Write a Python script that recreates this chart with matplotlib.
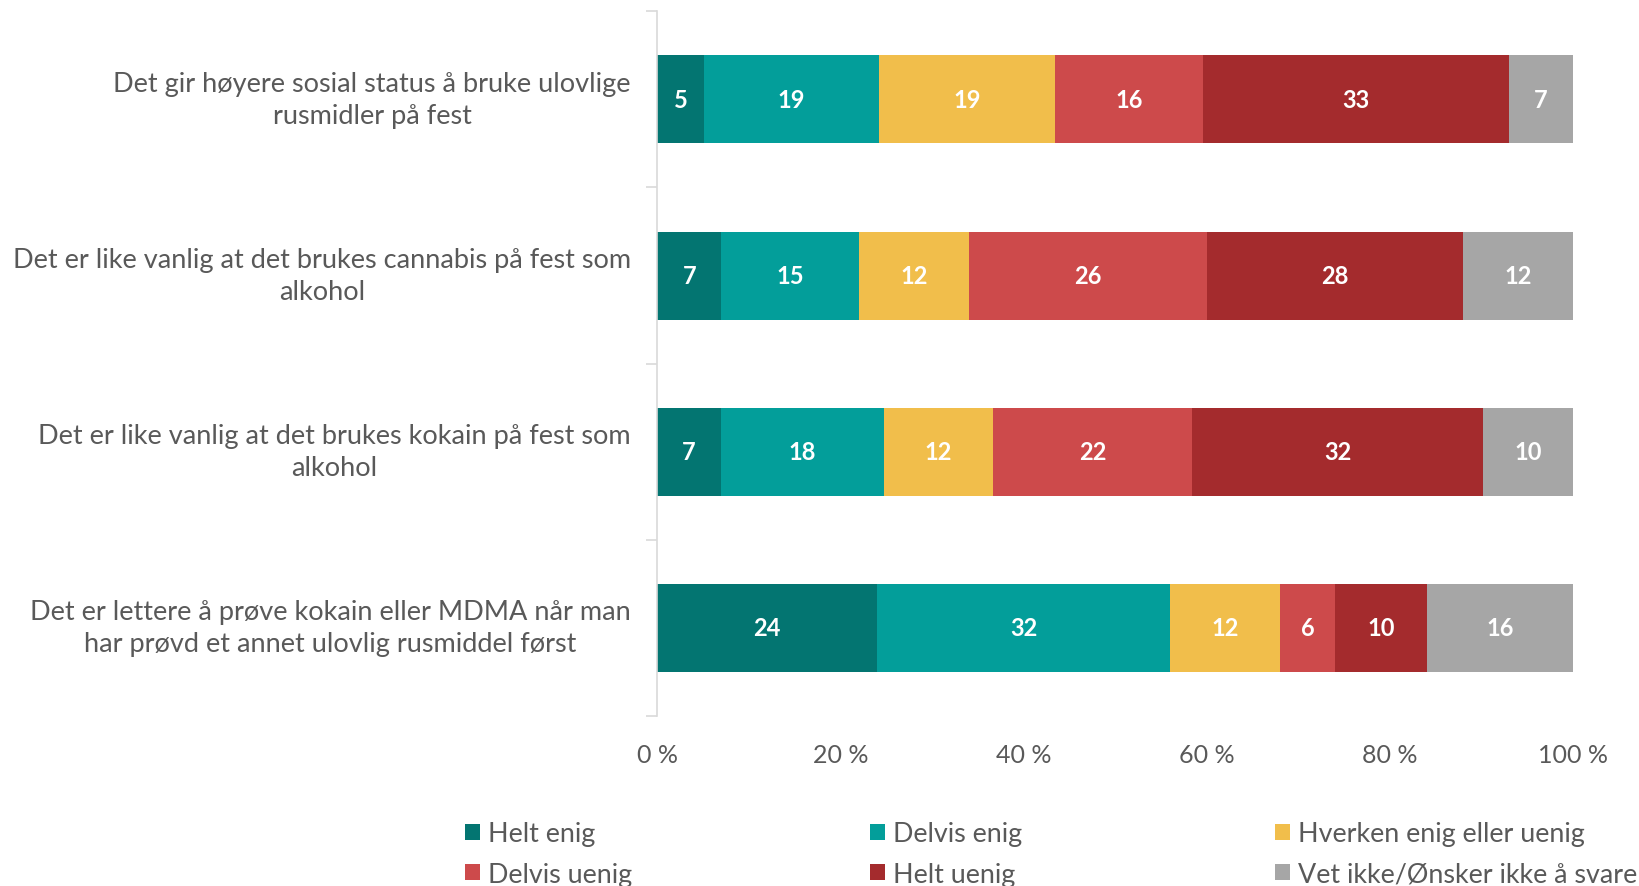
import numpy as np
import matplotlib
matplotlib.use('Agg')
import matplotlib.pyplot as plt
import matplotlib.transforms as mtransforms

plt.rcParams['font.family'] = ['Lato', 'DejaVu Sans']

categories = [
    'Det gir høyere sosial status å bruke ulovlige\nrusmidler på fest',
    'Det er like vanlig at det brukes cannabis på fest som\nalkohol',
    'Det er like vanlig at det brukes kokain på fest som\nalkohol',
    'Det er lettere å prøve kokain eller MDMA når man\nhar prøvd et annet ulovlig rusmiddel først',
]
series_names = ['Helt enig', 'Delvis enig', 'Hverken enig eller uenig',
                'Delvis uenig', 'Helt uenig', 'Vet ikke/Ønsker ikke å svare']
helt_enig = [5, 7, 7, 24]
delvis_enig = [19, 15, 18, 32]
hverken = [19, 12, 12, 12]
delvis_uenig = [16, 26, 22, 6]
helt_uenig = [33, 28, 32, 10]
vet_ikke = [7, 12, 10, 16]
colors = ['#037571', '#039E9A', '#F1BE4B', '#CD4A4B', '#A42B2D', '#A6A6A6']

data = np.array([helt_enig, delvis_enig, hverken, delvis_uenig, helt_uenig, vet_ikke], dtype=float)
shares = data / data.sum(axis=0) * 100

fig = plt.figure(figsize=(16.39, 8.87), dpi=100)
ax = fig.add_axes([0.401, 0.192, 0.559, 0.794])

y = np.arange(len(categories))
left = np.zeros(len(categories))
handles = []
for i, name in enumerate(series_names):
    bars = ax.barh(y, shares[i], left=left, height=0.5, color=colors[i], label=name)
    handles.append(bars)
    for j in range(len(categories)):
        ax.text(left[j] + shares[i][j] / 2, y[j], f'{int(data[i][j])}',
                ha='center', va='center', color='white', fontsize=17, fontweight='bold')
    left += shares[i]

ax.set_xlim(0, 100)
ax.set_ylim(len(categories) - 0.5, -0.5)
ax.set_xticks(np.arange(0, 101, 20))
ax.set_xticklabels([f'{v} %' for v in range(0, 101, 20)], color='#595959', fontsize=18)
ax.tick_params(axis='x', length=0, pad=20)
ax.set_yticks(y)
ax.set_yticklabels(categories, color='#595959', fontsize=19.5, ha='right',
                   multialignment='center', linespacing=1.35)
ax.tick_params(axis='y', length=0, pad=19)
shift = mtransforms.ScaledTranslation(0, 6 / 100, fig.dpi_scale_trans)
for lbl in ax.get_yticklabels():
    lbl.set_transform(lbl.get_transform() + shift)
ax.set_yticks(np.arange(-0.5, len(categories), 1), minor=True)
ax.tick_params(axis='y', which='minor', length=8, color='#D9D9D9', width=1.2)
for side in ['top', 'right', 'bottom']:
    ax.spines[side].set_visible(False)
ax.spines['left'].set_color('#D9D9D9')
ax.spines['left'].set_linewidth(1.2)

# three legend columns, filled row-wise like the original
col_x = [0.2837, 0.531, 0.778]
for c in range(3):
    leg = fig.legend([handles[c], handles[c + 3]], [series_names[c], series_names[c + 3]],
                     loc='upper left', bbox_to_anchor=(col_x[c], 0.0728),
                     frameon=False, fontsize=19.4, handlelength=0.55, handleheight=0.55,
                     handletextpad=0.3, labelspacing=0.57, borderpad=0, borderaxespad=0)
    for t in leg.get_texts():
        t.set_color('#595959')

fig.savefig('out.png', dpi=100)
